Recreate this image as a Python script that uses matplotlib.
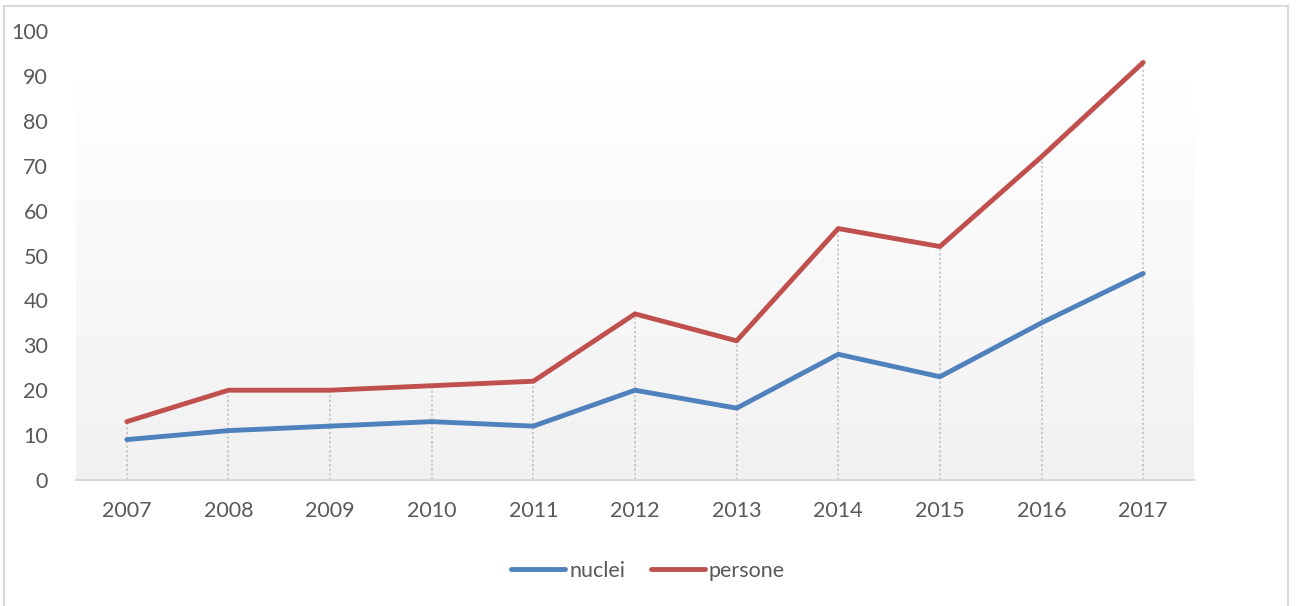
import numpy as np
import matplotlib
matplotlib.use("Agg")
import matplotlib.pyplot as plt
from matplotlib.lines import Line2D

years = ["2007", "2008", "2009", "2010", "2011", "2012", "2013", "2014", "2015", "2016", "2017"]
nuclei = [9, 11, 12, 13, 12, 20, 16, 28, 23, 35, 46]
persone = [13, 20, 20, 21, 22, 37, 31, 56, 52, 72, 93]
yticks = [0, 10, 20, 30, 40, 50, 60, 70, 80, 90, 100]

plt.rcParams['font.family'] = ['Lato', 'DejaVu Sans']
txt = '#595959'

fig = plt.figure(figsize=(12.96, 6.06), dpi=100)
ax = fig.add_axes([76/1296, 1 - 480/606, (1194 - 76)/1296, (480 - 31)/606])

x = np.arange(len(years))

# gradient background (white at top -> light grey at bottom)
grad = np.linspace(1.0, 0.945, 256).reshape(-1, 1)
ax.imshow(np.dstack([grad, grad, grad]), extent=[-0.5, len(years) - 0.5, 0, 88.4],
          aspect='auto', origin='upper', zorder=0)

# drop lines
top = np.maximum(nuclei, persone)
ax.vlines(x, 0, top, colors='#bfbfbf', linestyles=(0, (1.5, 1.5)), linewidth=1.1, zorder=1)

ax.plot(x, nuclei, color='#4f81bd', lw=3.5, solid_capstyle='round', label='nuclei', zorder=3)
ax.plot(x, persone, color='#c0504d', lw=3.5, solid_capstyle='round', label='persone', zorder=3)

ax.set_xlim(-0.5, len(years) - 0.5)
ax.set_ylim(0, 100)
ax.set_xticks(x)
ax.set_xticklabels(years)
ax.set_yticks(yticks)
ax.tick_params(axis='both', length=0, labelsize=15.5, colors=txt)
ax.tick_params(axis='x', pad=15)
ax.tick_params(axis='y', pad=20)
for lab in ax.get_yticklabels():
    lab.set_horizontalalignment('right')
ax.patch.set_alpha(0)
for s in ['top', 'right', 'left']:
    ax.spines[s].set_visible(False)
ax.spines['bottom'].set_color('#d9d9d9')
ax.spines['bottom'].set_linewidth(1.5)

leg = fig.legend(loc='center', bbox_to_anchor=(0.5, 1 - 571/606), ncol=2, frameon=False,
                 fontsize=15.5, handlelength=2.5, columnspacing=1.2, handletextpad=0.2)
for t in leg.get_texts():
    t.set_color(txt)

# outer border (light grey)
bc = '#d9d9d9'
fig.add_artist(Line2D([4/1296, 4/1296], [0, 1 - 6/606], color=bc, lw=1.5))
fig.add_artist(Line2D([4/1296, 1288/1296], [1 - 6/606, 1 - 6/606], color=bc, lw=1.5))
fig.add_artist(Line2D([1288/1296, 1288/1296], [0, 1 - 6/606], color=bc, lw=1.5))

fig.savefig('out.png', dpi=100)
